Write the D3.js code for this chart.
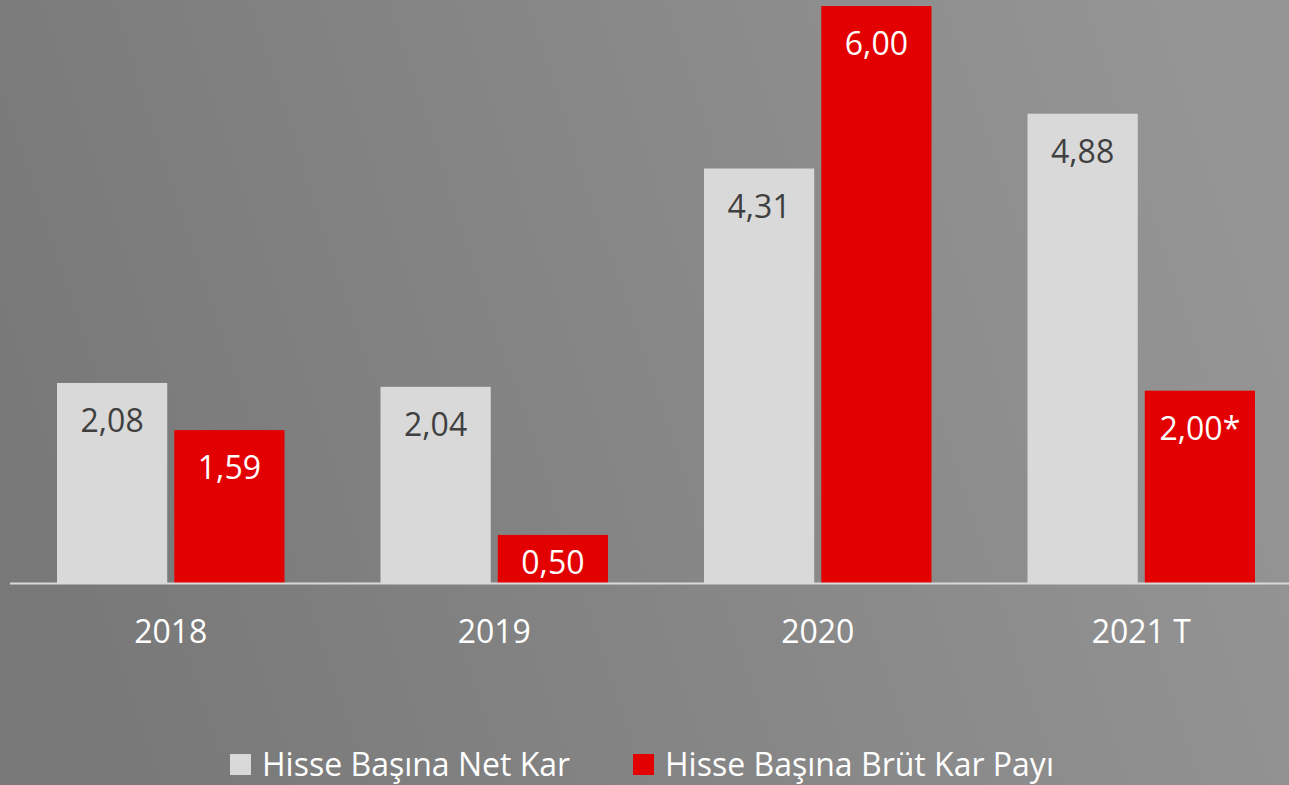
<!DOCTYPE html>
<html>
<head>
<meta charset="utf-8">
<script src="https://cdn.jsdelivr.net/npm/d3@7"></script>
<style>
  html, body { margin: 0; padding: 0; }
  body { width: 1289px; height: 785px; overflow: hidden; }
  svg { display: block; font-family: "Open Sans", "Noto Sans", sans-serif; }
</style>
</head>
<body>
<div id="chart"></div>
<script>
const years = ["2018", "2019", "2020", "2021 T"];
const netKar = [2.08, 2.04, 4.31, 4.88];
const brutKar = [1.59, 0.50, 6.00, 2.00];
const netLabels = ["2,08", "2,04", "4,31", "4,88"];
const brutLabels = ["1,59", "0,50", "6,00", "2,00*"];
const seriesNames = ["Hisse Başına Net Kar", "Hisse Başına Brüt Kar Payı"];
const colors = ["#d9d9d9", "#e30000"];

const W = 1289, H = 785;
const baseY = 583;
const fs = "32px";

const svg = d3.select("#chart")
    .append("svg")
        .attr("width", W)
        .attr("height", H);

// background gradient
const grad = svg.append("defs").append("linearGradient")
    .attr("id", "bg")
    .attr("x1", "0%").attr("y1", "60%")
    .attr("x2", "100%").attr("y2", "40%");
grad.append("stop").attr("offset", "0%").attr("stop-color", "#787878");
grad.append("stop").attr("offset", "100%").attr("stop-color", "#959595");
svg.append("rect").attr("width", W).attr("height", H).attr("fill", "url(#bg)");

const x = d3.scaleBand()
    .domain(years)
    .range([9, 1303])
    .paddingInner(0)
    .paddingOuter(0);

const x1 = d3.scaleBand()
    .domain([0, 1])
    .range([48, x.bandwidth() - 48])
    .paddingInner(0.06);

const y = d3.scaleLinear()
    .domain([0, 6])
    .range([baseY, 6]);

const rows = years.map((yr, i) => ({
    year: yr,
    vals: [
        {s: 0, v: netKar[i], label: netLabels[i]},
        {s: 1, v: brutKar[i], label: brutLabels[i]}
    ]
}));

const groups = svg.selectAll(".grp")
    .data(rows)
    .enter()
    .append("g")
        .attr("class", "grp")
        .attr("transform", d => `translate(${x(d.year)},0)`);

groups.selectAll("rect")
    .data(d => d.vals)
    .enter()
    .append("rect")
        .attr("x", d => x1(d.s))
        .attr("y", d => y(d.v))
        .attr("width", x1.bandwidth())
        .attr("height", d => baseY - y(d.v))
        .attr("fill", d => colors[d.s]);

// label sits near the top of the bar, pushed up if the bar is short
groups.selectAll("text.val")
    .data(d => d.vals)
    .enter()
    .append("text")
        .attr("class", "val")
        .attr("x", d => x1(d.s) + x1.bandwidth() / 2)
        .attr("y", d => Math.min(y(d.v) + 49, baseY - 9))
        .attr("text-anchor", "middle")
        .style("font-size", fs)
        .style("fill", d => d.s === 0 ? "#404040" : "#ffffff")
        .text(d => d.label);

// baseline
svg.append("line")
    .attr("x1", 10).attr("x2", W)
    .attr("y1", baseY + 0.5).attr("y2", baseY + 0.5)
    .attr("stroke", "#d9d9d9")
    .attr("stroke-width", 2);

// x axis labels
const xAxis = d3.axisBottom(x).tickSize(0).tickPadding(0);
const ax = svg.append("g")
    .attr("transform", `translate(0,${baseY})`)
    .call(xAxis);
ax.select(".domain").remove();
ax.selectAll("text")
    .attr("dy", 0)
    .attr("y", 60)
    .style("font-size", fs)
    .style("font-family", "'Open Sans', sans-serif")
    .style("fill", "#ffffff");

// legend
const legendX = [230, 633];
const leg = svg.selectAll(".leg")
    .data(seriesNames)
    .enter()
    .append("g")
        .attr("class", "leg")
        .attr("transform", (d, i) => `translate(${legendX[i]},754)`);
leg.append("rect")
    .attr("width", 21).attr("height", 21)
    .attr("fill", (d, i) => colors[i]);
leg.append("text")
    .attr("x", 32)
    .attr("y", 22)
    .style("font-size", fs)
    .style("fill", "#ffffff")
    .text(d => d);
</script>
</body>
</html>
